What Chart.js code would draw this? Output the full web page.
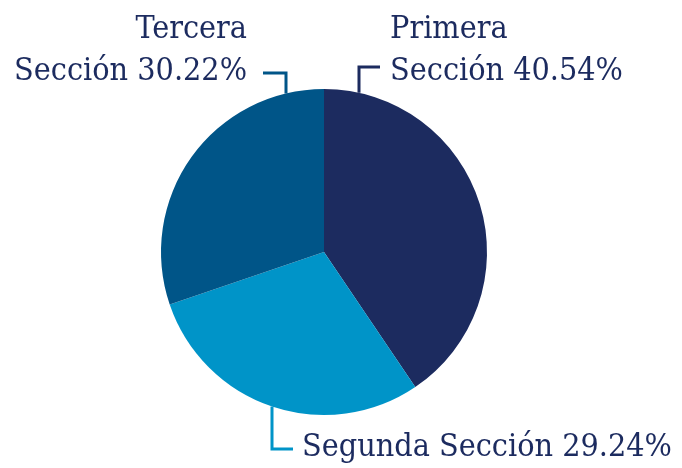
<!DOCTYPE html>
<html>
<head>
<meta charset="utf-8">
<script src="https://cdn.jsdelivr.net/npm/chart.js@4/dist/chart.umd.min.js"></script>
<style>
  html, body { margin: 0; padding: 0; background: #fff; }
  #wrap { width: 682px; height: 468px; position: relative; }
</style>
</head>
<body>
<div id="wrap"><canvas id="pie"></canvas></div>
<script>
// datos
const sections = ['Primera Sección', 'Segunda Sección', 'Tercera Sección'];
const percents = [40.54, 29.24, 30.22];
const labelLines = [
    ['Primera', 'Sección 40.54%'],
    ['Segunda Sección 29.24%'],
    ['Tercera', 'Sección 30.22%']
];

const sliceColors = ['#1c2b5f', '#0094c8', '#005588'];
const textColor = '#1c2b5f';
const labelFont = '32px "DejaVu Serif Condensed", "DejaVu Serif"';

// leader line + text placement per slice (relative to pie center)
const callouts = [
    { dx: 35,  elbowY: -185, armX: 56,  textX: 66,  textY: [-214, -172], align: 'left' },
    { dx: -52, elbowY: 197,  armX: -31, textX: -22, textY: [204], align: 'left' },
    { dx: -38, elbowY: -179, armX: -61, textX: -77, textY: [-214, -172], align: 'right' }
];

const calloutPlugin = {
    id: 'callouts',
    afterDraw(chart) {
        const ctx = chart.ctx;
        const meta = chart.getDatasetMeta(0);
        meta.data.forEach(function(arc, i) {
            const c = callouts[i];
            const r = arc.outerRadius;
            const cx = arc.x, cy = arc.y;
            const edgeY = cy + Math.sign(c.elbowY) * Math.sqrt(r * r - c.dx * c.dx);
            ctx.save();
            ctx.strokeStyle = sliceColors[i];
            ctx.lineWidth = 3;
            ctx.beginPath();
            ctx.moveTo(cx + c.dx, edgeY);
            ctx.lineTo(cx + c.dx, cy + c.elbowY);
            ctx.lineTo(cx + c.armX, cy + c.elbowY);
            ctx.stroke();

            ctx.fillStyle = textColor;
            ctx.font = labelFont;
            ctx.textAlign = c.align;
            ctx.textBaseline = 'alphabetic';
            labelLines[i].forEach(function(line, j) {
                ctx.fillText(line, cx + c.textX, cy + c.textY[j]);
            });
            ctx.restore();
        });
    }
};

new Chart(document.getElementById('pie'), {
    type: 'pie',
    data: {
        labels: sections,
        datasets: [{
            data: percents,
            backgroundColor: sliceColors,
            borderWidth: 0
        }]
    },
    options: {
        responsive: true,
        maintainAspectRatio: false,
        animation: false,
        layout: { padding: { left: 161, right: 195, top: 89, bottom: 53 } },
        plugins: {
            legend: { display: false },
            tooltip: { enabled: false }
        }
    },
    plugins: [calloutPlugin]
});
</script>
</body>
</html>
